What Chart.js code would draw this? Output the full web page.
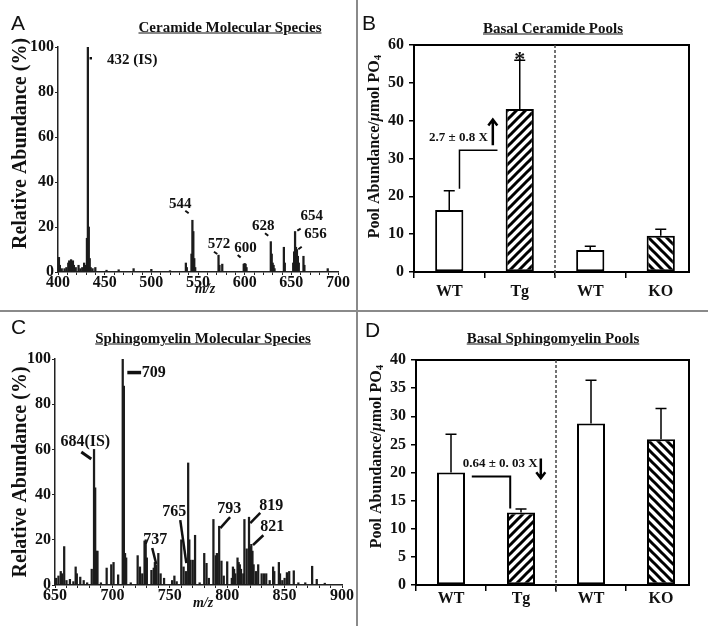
<!DOCTYPE html>
<html>
<head>
<meta charset="utf-8">
<script src="https://cdn.jsdelivr.net/npm/chart.js@4.4.1/dist/chart.umd.min.js"></script>
<style>
body { margin: 0; background: #fff; }
#fig { position: relative; width: 708px; height: 626px; overflow: hidden; background: #fff; }
.panel { position: absolute; }
.panel canvas { display: block; }
.letter { position: absolute; font-family: "Liberation Sans", Arial, sans-serif; font-size: 21px; line-height: 21px; color: #111; }
.title { position: absolute; font-family: "Liberation Serif", "Times New Roman", serif; font-weight: bold; font-size: 15px;
         text-decoration: underline; transform: translate(-50%, -50%); white-space: nowrap; color: #111; }
.vline { position: absolute; left: 356px; top: 0; width: 2px; height: 626px; background: #8a8a8a; }
.hline { position: absolute; left: 0; top: 310px; width: 708px; height: 2px; background: #8a8a8a; }
</style>
</head>
<body>
<div id="fig">
  <div class="panel" style="left:0;top:0"><canvas id="chartA" width="356" height="310"></canvas></div>
  <div class="panel" style="left:357px;top:0"><canvas id="chartB" width="351" height="310"></canvas></div>
  <div class="panel" style="left:0;top:311px"><canvas id="chartC" width="356" height="315"></canvas></div>
  <div class="panel" style="left:357px;top:311px"><canvas id="chartD" width="351" height="315"></canvas></div>
  <div class="vline"></div>
  <div class="hline"></div>
  <div class="letter" style="left:11px;top:12px">A</div>
  <div class="letter" style="left:362px;top:12px">B</div>
  <div class="letter" style="left:11px;top:316px">C</div>
  <div class="letter" style="left:365px;top:319px">D</div>
  <div class="title" style="left:230px;top:27px">Ceramide Molecular Species</div>
  <div class="title" style="left:553px;top:28px">Basal Ceramide Pools</div>
  <div class="title" style="left:203px;top:338px">Sphingomyelin Molecular Species</div>
  <div class="title" style="left:553px;top:338px">Basal Sphingomyelin Pools</div>
</div>
<script>
// ---- data ----
const ceramideMz = [401, 402, 404, 407, 409, 411, 412, 413, 414, 415, 416, 417, 419, 422, 424, 426, 428, 430, 431, 432,
    433, 434, 435, 437, 440, 452, 465, 481, 500, 520, 537, 538, 543, 544, 545, 546, 547, 572, 573, 576,
    599, 600, 601, 602, 628, 629, 630, 631, 632, 642, 643, 652, 653, 654, 655, 656, 657, 658, 663, 664, 689];
const ceramideAbundance = [6.5, 3, 1.5, 1.5, 2, 4, 5, 4.5, 5.5, 4, 5, 3, 2, 3, 1.5, 2, 4, 3, 15, 100,
    20, 6, 2, 1.5, 2, 0.8, 1, 1.5, 1.2, 0.6, 4, 2, 8, 23, 18, 6, 2, 7.5, 3, 3.5,
    3.5, 3.8, 3.5, 2, 13.5, 8, 4, 3, 1.5, 11, 4, 4, 9, 18, 11, 10, 7, 4, 7, 3, 1.5];

const sphingoMz = [650, 651, 653, 655, 656, 658, 660, 663, 666, 668, 669, 672, 675, 678, 682, 684, 685, 686, 687, 690,
    695, 699, 701, 705, 709, 710, 711, 712, 716, 722, 724, 726, 728, 729, 730, 734, 736, 737, 738, 740,
    742, 745, 752, 754, 756, 760, 762, 764, 766, 767, 768, 770, 772, 776, 780, 782, 784, 788, 790, 791,
    793, 795, 797, 800, 804, 805, 806, 807, 809, 810, 811, 812, 814, 815, 817, 819, 820, 821, 822, 823,
    825, 827, 830, 832, 834, 837, 840, 841, 845, 846, 848, 850, 852, 854, 858, 862, 868, 874, 878, 885];
const sphingoAbundance = [2, 3, 4, 6, 5, 17, 2, 2.5, 1.5, 8, 5, 3.5, 2, 1, 7, 60, 43, 15, 15, 1,
    7.5, 9, 10, 4.5, 100, 88, 14, 12, 1, 13, 8, 5, 19.5, 20, 12, 6.5, 7.5, 10, 9, 14,
    5, 3, 2, 4, 1.5, 20, 8, 6, 54, 20, 11, 11, 22, 1, 14, 9.6, 3, 29, 13, 14,
    26, 10.6, 4, 10.3, 3, 8, 7, 5, 12, 10, 9, 7, 5, 29, 16, 30, 17, 18, 15, 9,
    6, 9, 5, 5, 5, 2, 8, 6, 10, 5, 2, 3, 5.5, 6, 6.3, 1, 1, 8.3, 2.5, 0.8];

const groupLabels = ['WT', 'Tg', 'WT', 'KO'];
const ceramidePoolMeans = [16.4, 43.1, 5.8, 9.6];
const ceramidePoolErr = [5.1, 12.9, 1.0, 1.7];
const smPoolMeans = [20.0, 12.9, 28.7, 25.9];
const smPoolErr = [6.8, 0.6, 7.7, 5.5];

// ---- defaults ----
const SERIF = '"Liberation Serif", "Times New Roman", serif';
Chart.defaults.font.family = SERIF;
Chart.defaults.font.weight = 'bold';
Chart.defaults.color = '#111';
Chart.defaults.animation = false;
Chart.defaults.plugins.legend.display = false;
Chart.defaults.plugins.tooltip.enabled = false;

// rotated axis title made of runs (lets us mix italic mu and a subscript 4)
function drawVerticalTitle(ctx, parts, cx, cy) {
    ctx.save();
    ctx.translate(cx, cy);
    ctx.rotate(-Math.PI / 2);
    ctx.textBaseline = 'middle';
    ctx.textAlign = 'left';
    ctx.fillStyle = '#111';
    let total = 0;
    parts.forEach(p => { ctx.font = p.font; total += ctx.measureText(p.text).width; });
    let x = -total / 2;
    parts.forEach(p => {
        ctx.font = p.font;
        ctx.fillText(p.text, x, p.dy || 0);
        x += ctx.measureText(p.text).width;
    });
    ctx.restore();
}

// peak labels with short leader lines, placed in data units, plus axis titles
function peakLabels(items, size, titleLift, mzShift, mzDrop) {
    return {
        id: 'peakLabels',
        afterDatasetsDraw(chart) {
            const ctx = chart.ctx;
            const a = chart.chartArea;
            const xs = chart.scales.x, ys = chart.scales.y;
            ctx.save();
            ctx.strokeStyle = '#111';
            ctx.fillStyle = '#111';
            items.forEach(it => {
                if (it.line) {
                    ctx.beginPath();
                    ctx.lineWidth = it.lw || 2;
                    ctx.moveTo(xs.getPixelForValue(it.line[0]), ys.getPixelForValue(it.line[1]));
                    ctx.lineTo(xs.getPixelForValue(it.line[2]), ys.getPixelForValue(it.line[3]));
                    ctx.stroke();
                }
                ctx.font = 'bold ' + size + 'px ' + SERIF;
                ctx.textAlign = it.align || 'center';
                ctx.textBaseline = 'middle';
                ctx.fillText(it.text, xs.getPixelForValue(it.x), ys.getPixelForValue(it.y));
            });
            ctx.font = 'italic bold 14px ' + SERIF;
            ctx.textAlign = 'center';
            ctx.textBaseline = 'middle';
            ctx.fillText('m/z', (a.left + a.right) / 2 + mzShift, a.bottom + mzDrop);
            ctx.restore();
            drawVerticalTitle(ctx, [{ text: 'Relative Abundance (%)', font: 'bold 20px ' + SERIF }],
                ys.left + 12, (a.top + a.bottom) / 2 - titleLift);
        }
    };
}

// frame, divider, error bars and fold-change notes for the pool charts
function poolDecor(cfg) {
    return {
        id: 'poolDecor',
        afterDatasetsDraw(chart) {
            const ctx = chart.ctx;
            const a = chart.chartArea;
            const xs = chart.scales.x, ys = chart.scales.y;
            ctx.save();
            ctx.strokeStyle = '#000';
            ctx.lineWidth = 2;
            ctx.strokeRect(a.left, a.top, a.right - cfg.frameInset - a.left, a.bottom - a.top);

            // dashed split between the two experiments
            const dx = xs.getPixelForValue(1.5);
            ctx.setLineDash([3, 2]);
            ctx.strokeStyle = '#444';
            ctx.lineWidth = 1.5;
            ctx.beginPath();
            ctx.moveTo(dx, a.top);
            ctx.lineTo(dx, a.bottom + 7);
            ctx.stroke();
            ctx.setLineDash([]);

            // upper error bars
            ctx.strokeStyle = '#000';
            ctx.lineWidth = 1.5;
            chart.getDatasetMeta(0).data.forEach((bar, i) => {
                const top = ys.getPixelForValue(cfg.means[i] + cfg.errs[i]);
                ctx.beginPath();
                ctx.moveTo(bar.x, bar.y);
                ctx.lineTo(bar.x, top);
                ctx.moveTo(bar.x - 5.5, top);
                ctx.lineTo(bar.x + 5.5, top);
                ctx.stroke();
            });

            // bracket
            ctx.lineWidth = cfg.bracketWidth;
            ctx.beginPath();
            cfg.bracket.forEach((p, k) => {
                const px = xs.getPixelForValue(p[0]), py = ys.getPixelForValue(p[1]);
                if (k === 0) ctx.moveTo(px, py); else ctx.lineTo(px, py);
            });
            ctx.stroke();

            // arrow
            const ax = xs.getPixelForValue(cfg.arrow[0]);
            const ay0 = ys.getPixelForValue(cfg.arrow[1]);
            const ay1 = ys.getPixelForValue(cfg.arrow[2]);
            const dir = ay1 < ay0 ? 1 : -1;
            ctx.lineWidth = 2.5;
            ctx.beginPath();
            ctx.moveTo(ax, ay0);
            ctx.lineTo(ax, ay1);
            ctx.moveTo(ax - 4.5, ay1 + dir * 6);
            ctx.lineTo(ax, ay1);
            ctx.lineTo(ax + 4.5, ay1 + dir * 6);
            ctx.stroke();

            // texts
            ctx.fillStyle = '#111';
            cfg.texts.forEach(t => {
                ctx.font = 'bold ' + t.size + 'px ' + SERIF;
                ctx.textAlign = 'center';
                ctx.textBaseline = t.baseline || 'middle';
                ctx.fillText(t.text, xs.getPixelForValue(t.x), ys.getPixelForValue(t.y));
            });
            ctx.restore();

            drawVerticalTitle(ctx, [
                { text: 'Pool Abundance/', font: 'bold 16px ' + SERIF },
                { text: '\u03bc', font: 'italic bold 16px ' + SERIF },
                { text: 'mol PO', font: 'bold 16px ' + SERIF },
                { text: '4', font: 'bold 11px ' + SERIF, dy: 3 }
            ], ys.left + 10, (a.top + a.bottom) / 2 - cfg.titleLift);
        }
    };
}

function makeHatch(canvasId, dir) {
    const s = 9;
    const tile = document.createElement('canvas');
    tile.width = s;
    tile.height = s;
    const g = tile.getContext('2d');
    g.fillStyle = '#fff';
    g.fillRect(0, 0, s, s);
    g.strokeStyle = '#000';
    g.lineWidth = 3;
    g.beginPath();
    if (dir === '/') {
        g.moveTo(0, s); g.lineTo(s, 0);
        g.moveTo(-s / 2, s / 2); g.lineTo(s / 2, -s / 2);
        g.moveTo(s / 2, 1.5 * s); g.lineTo(1.5 * s, s / 2);
    } else {
        g.moveTo(0, 0); g.lineTo(s, s);
        g.moveTo(s / 2, -s / 2); g.lineTo(1.5 * s, s / 2);
        g.moveTo(-s / 2, s / 2); g.lineTo(s / 2, 1.5 * s);
    }
    g.stroke();
    return document.getElementById(canvasId).getContext('2d').createPattern(tile, 'repeat');
}

function spectrumChart(id, mz, abund, xMin, xMax, pad, xHeight, yWidth, labels, labelSize, titleLift, mzShift, mzDrop) {
    return new Chart(document.getElementById(id), {
        type: 'bar',
        data: {
            datasets: [{
                data: mz.map((m, i) => ({ x: m, y: abund[i] })),
                backgroundColor: '#1c1c1c',
                borderWidth: 0,
                barThickness: 1.6
            }]
        },
        options: {
            responsive: false,
            layout: { padding: pad },
            scales: {
                x: {
                    type: 'linear', min: xMin, max: xMax, offset: false,
                    afterFit: s => { s.height = xHeight; },
                    ticks: {
                        stepSize: 10, maxTicksLimit: 60, autoSkip: false, maxRotation: 0, minRotation: 0, padding: -2,
                        font: { size: 16, weight: 'bold' },
                        callback: v => (v % 50 === 0 ? v : '')
                    },
                    grid: { display: true, drawOnChartArea: false, offset: false, tickLength: 3, color: '#222', lineWidth: 1 },
                    border: { color: '#222', width: 1.5 }
                },
                y: {
                    min: 0, max: 100,
                    afterFit: s => { s.width = yWidth; },
                    ticks: { stepSize: 20, padding: 1, font: { size: 16, weight: 'bold' } },
                    grid: { display: true, drawOnChartArea: false, tickLength: 3, color: '#222' },
                    border: { color: '#222', width: 1.5 }
                }
            }
        },
        plugins: [peakLabels(labels, labelSize, titleLift, mzShift, mzDrop)]
    });
}

function poolChart(id, means, errs, yMax, yStep, pad, tickPad, decor) {
    const fills = ['#fff', makeHatch(id, '/'), '#fff', makeHatch(id, '\\')];
    return new Chart(document.getElementById(id), {
        type: 'bar',
        data: {
            labels: groupLabels,
            datasets: [{
                data: means,
                backgroundColor: fills,
                borderColor: '#000',
                borderWidth: 2,
                borderSkipped: false,
                categoryPercentage: 1,
                barPercentage: 0.4
            }]
        },
        options: {
            responsive: false,
            layout: { padding: pad },
            scales: {
                x: {
                    afterFit: s => { s.height = 30; },
                    ticks: { padding: tickPad, font: { size: 16, weight: 'bold' } },
                    grid: {
                        display: true, drawOnChartArea: false, tickLength: 6, lineWidth: 1.5,
                        // the extra boundary line past the last label has no tick context
                        color: ctx => (ctx.type === 'tick' ? '#000' : 'rgba(0,0,0,0)')
                    },
                    border: { display: false }
                },
                y: {
                    min: 0, max: yMax,
                    afterFit: s => { s.width = 49; },
                    ticks: { stepSize: yStep, padding: 5, font: { size: 16, weight: 'bold' } },
                    grid: { display: true, drawOnChartArea: false, tickLength: 5, color: '#000', lineWidth: 1.5 },
                    border: { display: false }
                }
            }
        },
        plugins: [poolDecor(Object.assign({ means: means, errs: errs, frameInset: 7 }, decor))]
    });
}

// ---- A: ceramide spectrum ----
spectrumChart('chartA', ceramideMz, ceramideAbundance, 400, 700,
    { left: 9, top: 47, right: 18, bottom: 12 }, 26, 49, [
        { text: '432 (IS)', x: 452.5, y: 94, align: 'left', line: [433.8, 95, 436.4, 95], lw: 2.5 },
        { text: '544', x: 531, y: 30, line: [536.4, 27.2, 540, 26.1] },
        { text: '572', x: 572.5, y: 12.4, line: [567.1, 9, 570.7, 8] },
        { text: '600', x: 601, y: 10.6, line: [592.5, 7.6, 595.7, 6.4] },
        { text: '628', x: 620, y: 20.5, line: [621.8, 17.2, 625.3, 16.1] },
        { text: '654', x: 672, y: 25, line: [656.4, 18.4, 660, 19.3] },
        { text: '656', x: 676, y: 17, line: [657.5, 10.1, 661.1, 11.2] }
    ], 15, 16, 7, 17);

// ---- C: sphingomyelin spectrum ----
spectrumChart('chartC', sphingoMz, sphingoAbundance, 650, 900,
    { left: 9, top: 48, right: 14, bottom: 13 }, 28, 46, [
        { text: '709', x: 725.5, y: 94, align: 'left', line: [713, 94, 725, 94], lw: 3.5 },
        { text: '684(IS)', x: 676.4, y: 63.3, line: [672.9, 58.8, 681.6, 55.8], lw: 3 },
        { text: '765', x: 753.9, y: 32.3, line: [759.1, 28.7, 764.4, 9.7], lw: 2.5 },
        { text: '737', x: 737.3, y: 19.9, line: [734.7, 16.4, 738.2, 9.3], lw: 2.5 },
        { text: '793', x: 801.8, y: 33.6, line: [802.5, 30, 794, 25.2], lw: 2.5 },
        { text: '819', x: 838.4, y: 35, line: [828.8, 31.9, 820.1, 27.4], lw: 2.5 },
        { text: '821', x: 839.3, y: 25.7, line: [831.5, 22, 822.5, 17.7], lw: 2.5 }
    ], 16, 0, 4.5, 18);

// ---- B: ceramide pools ----
poolChart('chartB', ceramidePoolMeans, ceramidePoolErr, 60, 10,
    { left: 8, top: 45, right: 12, bottom: 8 }, 4, {
        titleLift: 12,
        bracketWidth: 1.5,
        bracket: [[0.145, 22], [0.145, 32.2], [0.684, 32.2]],
        arrow: [0.618, 33.5, 40.3],
        texts: [
            { text: '2.7 \u00b1 0.8 X', x: 0.131, y: 35.6, size: 13 },
            { text: '*', x: 1, y: 54.5, size: 22, baseline: 'alphabetic' }
        ]
    });

// ---- D: sphingomyelin pools ----
poolChart('chartD', smPoolMeans, smPoolErr, 40, 5,
    { left: 10, top: 49, right: 12, bottom: 11 }, -2, {
        titleLift: 16,
        bracketWidth: 2,
        bracket: [[0.297, 19.3], [0.846, 19.3], [0.846, 13.6]],
        arrow: [1.283, 22.5, 19.0],
        texts: [
            { text: '0.64 \u00b1 0. 03 X', x: 0.703, y: 21.6, size: 13 }
        ]
    });
</script>
</body>
</html>
